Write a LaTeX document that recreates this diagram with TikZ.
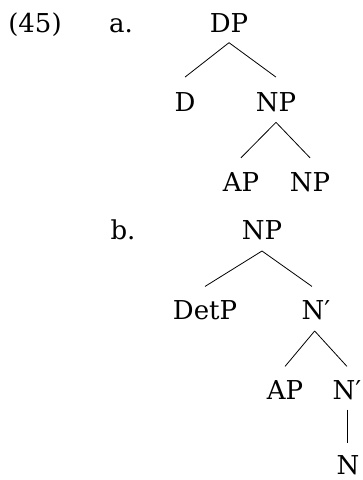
\documentclass[tikz,border=0pt]{standalone}
\usepackage{fontspec}
\setmainfont{DejaVu Serif}
\begin{document}
\begin{tikzpicture}[x=0.75pt,y=-0.75pt,
  lab/.style={anchor=base,inner sep=0pt,font=\fontsize{19.5}{23}\selectfont},
  edge/.style={line width=0.6pt}]
\useasboundingbox (0,0) rectangle (363,480);
\node[lab] (ex) at (35,32) {(45)};
\node[lab] (la) at (121,32) {a.};
\node[lab] (dp) at (229,32) {DP};
\node[lab] (d) at (185,111) {D};
\node[lab] (np1) at (276,111) {NP};
\node[lab] (ap1) at (241,191) {AP};
\node[lab] (np2) at (310,191) {NP};
\node[lab] (lb) at (123,239) {b.};
\node[lab] (np3) at (262,239) {NP};
\node[lab] (detp) at (205,319) {DetP};
\node[lab] (nb1) at (316,319) {N′};
\node[lab] (ap2) at (285,399) {AP};
\node[lab] (nb2) at (347,399) {N′};
\node[lab] (n) at (348,474) {N};
\draw[edge] ([yshift=-8pt]dp.base) -- ([yshift=11pt]d.north);
\draw[edge] ([yshift=-8pt]dp.base) -- ([yshift=11pt]np1.north);
\draw[edge] ([yshift=-8.5pt]np1.base) -- ([yshift=10.5pt]ap1.north);
\draw[edge] ([yshift=-8.5pt]np1.base) -- ([yshift=10.5pt]np2.north);
\draw[edge] ([yshift=-9pt]np3.base) -- ([yshift=10pt]detp.north);
\draw[edge] ([yshift=-9pt]np3.base) -- ([xshift=-3pt,yshift=10pt]nb1.north);
\draw[edge] ([xshift=-1pt,yshift=-9pt]nb1.base) -- ([yshift=10pt]ap2.north);
\draw[edge] ([xshift=-1pt,yshift=-9pt]nb1.base) -- ([yshift=10pt]nb2.north);
\draw[edge] ([yshift=-8pt]nb2.base) -- ([yshift=9pt]nb2.base |- n.north);
\end{tikzpicture}
\end{document}
